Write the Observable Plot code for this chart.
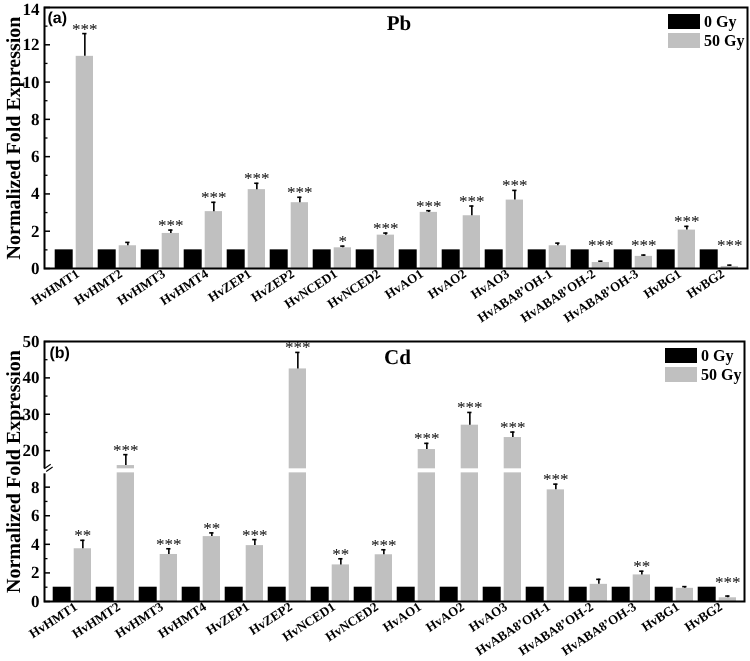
<!DOCTYPE html>
<html>
<head>
<meta charset="utf-8">
<script src="https://cdn.jsdelivr.net/npm/d3@7"></script>
<script src="https://cdn.jsdelivr.net/npm/@observablehq/plot@0.6"></script>
<style>
  html, body { margin: 0; padding: 0; background: #fff; }
  #root { position: relative; width: 750px; height: 661px; overflow: hidden; background: #fff; }
  .panel { position: absolute; left: 0; will-change: transform; }
  .panel text { text-rendering: geometricPrecision; }
  .lg-box { position: absolute; width: 32px; height: 15px; }
  .lg-txt { position: absolute; font-family: "Liberation Serif", serif; font-weight: bold; font-size: 16px; line-height: 16px; color: #000; }
</style>
</head>
<body>
<div id="root"></div>
<script>
// ---------------- data ----------------
const genes = ["HvHMT1","HvHMT2","HvHMT3","HvHMT4","HvZEP1","HvZEP2","HvNCED1","HvNCED2",
  "HvAO1","HvAO2","HvAO3","HvABA8\u2019OH-1","HvABA8\u2019OH-2","HvABA8\u2019OH-3","HvBG1","HvBG2"];
const seriesNames = ["0 Gy", "50 Gy"];

// panel (a) Pb
const pbControl = [1,1,1,1,1,1,1,1,1,1,1,1,1,1,1,1];
const pbValues  = [11.38,1.22,1.88,3.05,4.23,3.53,1.11,1.79,3.01,2.83,3.67,1.22,0.32,0.65,2.06,0.11];
const pbSD      = [1.22,0.18,0.18,0.50,0.34,0.29,0.09,0.11,0.09,0.52,0.52,0.14,0.07,0.07,0.20,0.07];
const pbSig     = ["***","","***","***","***","***","*","***","***","***","***","","***","***","***","***"];

// panel (b) Cd
const cdControl = [1,1,1,1,1,1,1,1,1,1,1,1,1,1,1,1];
const cdValues  = [3.69,15.9,3.29,4.54,3.91,42.46,2.56,3.27,20.3,27.0,23.6,7.81,1.20,1.86,0.92,0.26];
const cdSD      = [0.59,3.0,0.40,0.26,0.42,4.54,0.43,0.35,1.7,3.5,1.5,0.40,0.35,0.26,0.12,0.12];
const cdSig     = ["**","***","***","**","***","***","**","***","***","***","***","***","","**","","***"];

// axis ticks
const pbMajor = [0,2,4,6,8,10,12,14];
const pbMinor = [1,3,5,7,9,11,13];
const cdLowMajor = [0,2,4,6,8];
const cdLowMinor = [1,3,5,7];
const cdHighMajor = [20,30,40,50];
const cdHighMinor = [25,35,45];
const cdBreak = [9, 15];   // axis break: lower segment 0-9, upper 15-50

// ---------------- helpers ----------------
const SERIF = "Liberation Serif, Times New Roman, serif";
const GRAY = "#c0c0c0";
const rowsOf = (ctrl, vals, sd, sig) => genes.map((g, i) => ({gene: g, control: ctrl[i], value: vals[i], sd: sd[i], sig: sig[i]}));
const pbRows = rowsOf(pbControl, pbValues, pbSD, pbSig);
const cdRows = rowsOf(cdControl, cdValues, cdSD, cdSig);

const root = document.getElementById("root");

function addLegend(left, top) {
  const items = [["#000", seriesNames[0]], [GRAY, seriesNames[1]]];
  items.forEach(([c, t], i) => {
    const b = document.createElement("div");
    b.className = "lg-box"; b.style.background = c;
    b.style.left = left + "px"; b.style.top = (top + i * 18.5) + "px";
    root.appendChild(b);
    const s = document.createElement("div");
    s.className = "lg-txt"; s.textContent = t;
    s.style.left = (left + 36) + "px"; s.style.top = (top + i * 18.5) + "px";
    root.appendChild(s);
  });
}

// bar geometry inside each 44px band
const BAR = {blackL: 2.7, blackR: 22.3, grayL: 23.7, grayR: 2, errDx: 10.85, capL: 30.2, capR: 8.5};
const starOpts = {dx: BAR.errDx, dy: 1, fontSize: 17, fontWeight: "normal", fill: "#1a1a1a", lineAnchor: "bottom"};
const xAxisOpts = {tickRotate: -33, textAnchor: "end", tickSize: 0, tickPadding: 4, dx: 4, fontSize: 13, label: null};
const titleOpts = {frameAnchor: "left", textAnchor: "middle", rotate: -90, dx: -31, fontSize: 20, fontWeight: "bold"};

// ---------------- panel (a) ----------------
{
  const W = 750, H = 334, mL = 44, mR = 3, mT = 7, mB = 66;
  const fw = W - mL - mR;
  const topTick = pbMajor[pbMajor.length - 1];
  const chart = Plot.plot({
    width: W, height: H, marginLeft: mL, marginRight: mR, marginTop: mT, marginBottom: mB,
    style: {fontFamily: SERIF, fontWeight: "bold", color: "#000", background: "transparent", overflow: "visible"},
    x: {domain: genes, padding: 0},
    y: {domain: [0, 14]},
    marks: [
      Plot.barY(pbRows, {x: "gene", y: "control", fill: "#000", insetLeft: BAR.blackL, insetRight: BAR.blackR}),
      Plot.barY(pbRows, {x: "gene", y: "value", fill: GRAY, insetLeft: BAR.grayL, insetRight: BAR.grayR}),
      Plot.ruleX(pbRows, {x: "gene", y1: "value", y2: d => d.value + d.sd, dx: BAR.errDx, stroke: "#000", strokeWidth: 1.6}),
      Plot.tickY(pbRows, {x: "gene", y: d => d.value + d.sd, insetLeft: BAR.capL, insetRight: BAR.capR, stroke: "#000", strokeWidth: 1.6}),
      Plot.text(pbRows, {x: "gene", y: d => Math.max(d.value + d.sd, 1), text: "sig", ...starOpts}),
      Plot.tickY(pbMajor, {y: d => d, insetRight: fw - 6, stroke: "#000", strokeWidth: 1.5}),
      Plot.tickY(pbMinor, {y: d => d, insetRight: fw - 3.5, stroke: "#000", strokeWidth: 1.3}),
      Plot.axisY({ticks: pbMajor.filter(v => v !== topTick), tickSize: 0, tickPadding: 5, fontSize: 17, label: null}),
      Plot.axisY({ticks: [topTick], tickSize: 0, tickPadding: 5, dy: 2, fontSize: 17, label: null}),
      Plot.axisX(xAxisOpts),
      Plot.frame({stroke: "#000", strokeWidth: 2}),
      Plot.text(["Normalized Fold Expression"], titleOpts),
      Plot.text(["(a)"], {frameAnchor: "top-left", dx: 3, dy: 4, textAnchor: "start", lineAnchor: "top",
        fontFamily: "Liberation Sans, Arial, sans-serif", fontSize: 16, fontWeight: "bold"}),
      Plot.text(["Pb"], {frameAnchor: "top", dx: 3, dy: 8, lineAnchor: "top", fontSize: 21, fontWeight: "bold"})
    ]
  });
  chart.classList.add("panel");
  chart.style.top = "0px";
  root.appendChild(chart);
  addLegend(668, 14);
}

// ---------------- panel (b) ----------------
{
  const W = 750, H = 327, mL = 44, mR = 6, mT = 7, mB = 60;
  const fw = W - mL - mR;
  const [LOW, HIGH] = cdBreak;
  const lowPx = 128, highPx = 126.7, gapPx = 4;        // segment heights
  const unit = lowPx / LOW;                            // px per unit (lower)
  const ratio = (highPx / (50 - HIGH)) / unit;         // upper compression
  const gap = gapPx / unit;
  const brk = v => v <= LOW ? v : LOW + gap + (v - HIGH) * ratio;
  const top = brk(50);
  const majors = [...cdLowMajor, ...cdHighMajor];
  const labelOf = new Map(majors.map(v => [brk(v), String(v)]));
  const gapMid = LOW + gap / 2;

  const chart = Plot.plot({
    width: W, height: H, marginLeft: mL, marginRight: mR, marginTop: mT, marginBottom: mB,
    style: {fontFamily: SERIF, fontWeight: "bold", color: "#000", background: "transparent", overflow: "visible"},
    x: {domain: genes, padding: 0},
    y: {domain: [0, top]},
    marks: [
      Plot.barY(cdRows, {x: "gene", y: d => brk(d.control), fill: "#000", insetLeft: BAR.blackL, insetRight: BAR.blackR}),
      // lower piece of 50 Gy bars
      Plot.barY(cdRows, {x: "gene", y: d => Math.min(d.value, LOW), fill: GRAY, insetLeft: BAR.grayL, insetRight: BAR.grayR}),
      // upper piece (above the break)
      Plot.barY(cdRows.filter(d => d.value > HIGH), {x: "gene", y1: () => brk(HIGH), y2: d => brk(d.value), fill: GRAY, insetLeft: BAR.grayL, insetRight: BAR.grayR}),
      Plot.ruleX(cdRows, {x: "gene", y1: d => brk(d.value), y2: d => brk(d.value + d.sd), dx: BAR.errDx, stroke: "#000", strokeWidth: 1.6}),
      Plot.tickY(cdRows, {x: "gene", y: d => brk(d.value + d.sd), insetLeft: BAR.capL, insetRight: BAR.capR, stroke: "#000", strokeWidth: 1.6}),
      Plot.text(cdRows, {x: "gene", y: d => brk(Math.max(d.value + d.sd, 1)), text: "sig", ...starOpts}),
      Plot.tickY(majors, {y: d => brk(d), insetRight: fw - 6, stroke: "#000", strokeWidth: 1.5}),
      Plot.tickY([...cdLowMinor, ...cdHighMinor], {y: d => brk(d), insetRight: fw - 3.5, stroke: "#000", strokeWidth: 1.3}),
      Plot.axisY({ticks: majors.map(brk), tickFormat: d => labelOf.get(d), tickSize: 0, tickPadding: 5, fontSize: 17, label: null}),
      Plot.axisX(xAxisOpts),
      Plot.frame({stroke: "#000", strokeWidth: 2}),
      // break in the left axis
      Plot.ruleY([gapMid], {y: d => d, insetLeft: -4, insetRight: fw - 3, stroke: "#fff", strokeWidth: gapPx + 1}),
      Plot.text(["="], {frameAnchor: "left", y: [gapMid], rotate: -35, fontSize: 17, fontWeight: "bold"}),
      Plot.text(["Normalized Fold Expression"], titleOpts),
      Plot.text(["(b)"], {frameAnchor: "top-left", dx: 5, dy: 5, textAnchor: "start", lineAnchor: "top",
        fontFamily: "Liberation Sans, Arial, sans-serif", fontSize: 16, fontWeight: "bold"}),
      Plot.text(["Cd"], {frameAnchor: "top", dx: 3, dy: 8, lineAnchor: "top", fontSize: 21, fontWeight: "bold"})
    ]
  });
  chart.classList.add("panel");
  chart.style.top = "334px";
  root.appendChild(chart);
  addLegend(665, 348);
}
</script>
</body>
</html>
